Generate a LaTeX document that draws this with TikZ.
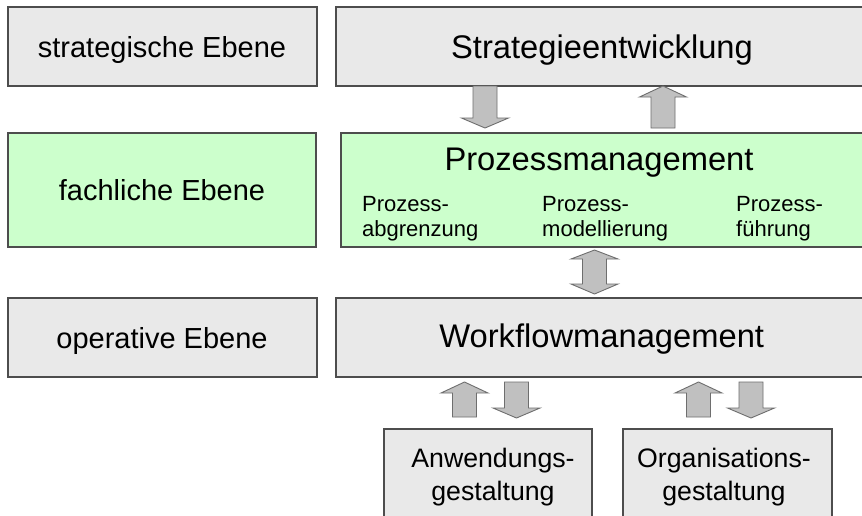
\documentclass[tikz,border=0pt]{standalone}
\usepackage{fontspec}
\setmainfont{Liberation Sans}
\definecolor{boxgray}{HTML}{E9E9E9}
\definecolor{boxgreen}{HTML}{CCFFCC}
\definecolor{framegray}{HTML}{4D4D4D}
\definecolor{arrowfill}{HTML}{C0C0C0}
\definecolor{arrowline}{HTML}{6E6E6E}
\tikzset{
  levelbox/.style={draw=framegray, line width=1.2pt, inner sep=0pt, outer sep=0pt},
  grayfill/.style={levelbox, fill=boxgray},
  greenfill/.style={levelbox, fill=boxgreen},
  blockarrow/.style={fill=arrowfill, draw=arrowline, line width=0.9pt, line join=miter},
  biglabel/.style={font=\fontsize{32.7}{38}\selectfont, anchor=base, inner sep=0pt},
  levellabel/.style={font=\fontsize{29}{34}\selectfont, anchor=base, inner sep=0pt},
  sublabel/.style={font=\fontsize{22}{25}\selectfont, align=left, anchor=north west, inner sep=0pt},
  designlabel/.style={font=\fontsize{26.7}{33.3}\selectfont, align=center, anchor=north, inner sep=0pt},
  % block arrows: origin at the top (down), at the bottom (up), at the top tip (double)
  pics/downarrow/.style={code={
    \filldraw[blockarrow] (-12,0) -- (12,0) -- (12,{#1-10}) -- (23.5,{#1-10}) -- (0,#1)
      -- (-23.5,{#1-10}) -- (-12,{#1-10}) -- cycle;}},
  pics/uparrow/.style={code={
    \filldraw[blockarrow] (-12,0) -- (12,0) -- (12,{-#1+11}) -- (23.5,{-#1+11}) -- (0,-#1)
      -- (-23.5,{-#1+11}) -- (-12,{-#1+11}) -- cycle;}},
  pics/doublearrow/.style={code={
    \filldraw[blockarrow] (0,0) -- (23.5,9) -- (12,9) -- (12,{#1-10}) -- (23.5,{#1-10}) -- (0,#1)
      -- (-23.5,{#1-10}) -- (-12,{#1-10}) -- (-12,9) -- (-23.5,9) -- cycle;}},
}
\begin{document}
\begin{tikzpicture}[x=1pt, y=-1pt]
\clip (0,0) rectangle (862,515);
\fill[white] (0,0) rectangle (862,515);

% level column
\node[grayfill, minimum width=309pt, minimum height=79pt] (strat) at (162.5,46.5) {};
\node[greenfill, minimum width=308pt, minimum height=114pt] (fach) at (162,190) {};
\node[grayfill, minimum width=309pt, minimum height=79pt] (oper) at (162.5,337.5) {};

% content column
\node[grayfill, minimum width=544pt, minimum height=79pt] (sdev) at (608,46.5) {};
\node[greenfill, minimum width=539pt, minimum height=114pt] (proz) at (610.5,190) {};
\node[grayfill, minimum width=544pt, minimum height=79pt] (wf) at (608,337.5) {};
\node[grayfill, minimum width=208pt, minimum height=101pt] (anw) at (488,479.5) {};
\node[grayfill, minimum width=209pt, minimum height=101pt] (org) at (727.5,479.5) {};

% labels
\node[levellabel] (stratT) at (162,57.3) {strategische Ebene};
\node[levellabel] (fachT) at (162,200.8) {fachliche Ebene};
\node[levellabel] (operT) at (162,348.3) {operative Ebene};
\node[biglabel] (sdevT) at (602,58.3) {Strategieentwicklung};
\node[biglabel] (prozT) at (599,170) {Prozessmanagement};
\node[biglabel] (wfT) at (601.7,347.7) {Workflowmanagement};
\node[sublabel] (abgr) at (362,196) {Prozess-\\abgrenzung};
\node[sublabel] (mod) at (542,196) {Prozess-\\modellierung};
\node[sublabel] (fuehr) at (736,196) {Prozess-\\führung};
\node[designlabel] (anwT) at (493,447.6) {Anwendungs-\\gestaltung};
\node[designlabel] (orgT) at (724,447.6) {Organisations-\\gestaltung};

% arrows between the levels
\pic at ([xshift=149pt]sdev.south west) {downarrow=42};
\pic at ([xshift=322pt,yshift=5pt]proz.north west) {uparrow=42};
\pic at ([xshift=253.5pt,yshift=-3pt]proz.south west) {doublearrow=44};
\pic at ([xshift=-23.5pt,yshift=12pt]anw.north) {uparrow=35};
\pic at ([xshift=180.5pt,yshift=-5pt]wf.south west) {downarrow=36};
\pic at ([xshift=-29pt,yshift=12pt]org.north) {uparrow=35};
\pic at ([xshift=415pt,yshift=-5pt]wf.south west) {downarrow=36};
\end{tikzpicture}
\end{document}
